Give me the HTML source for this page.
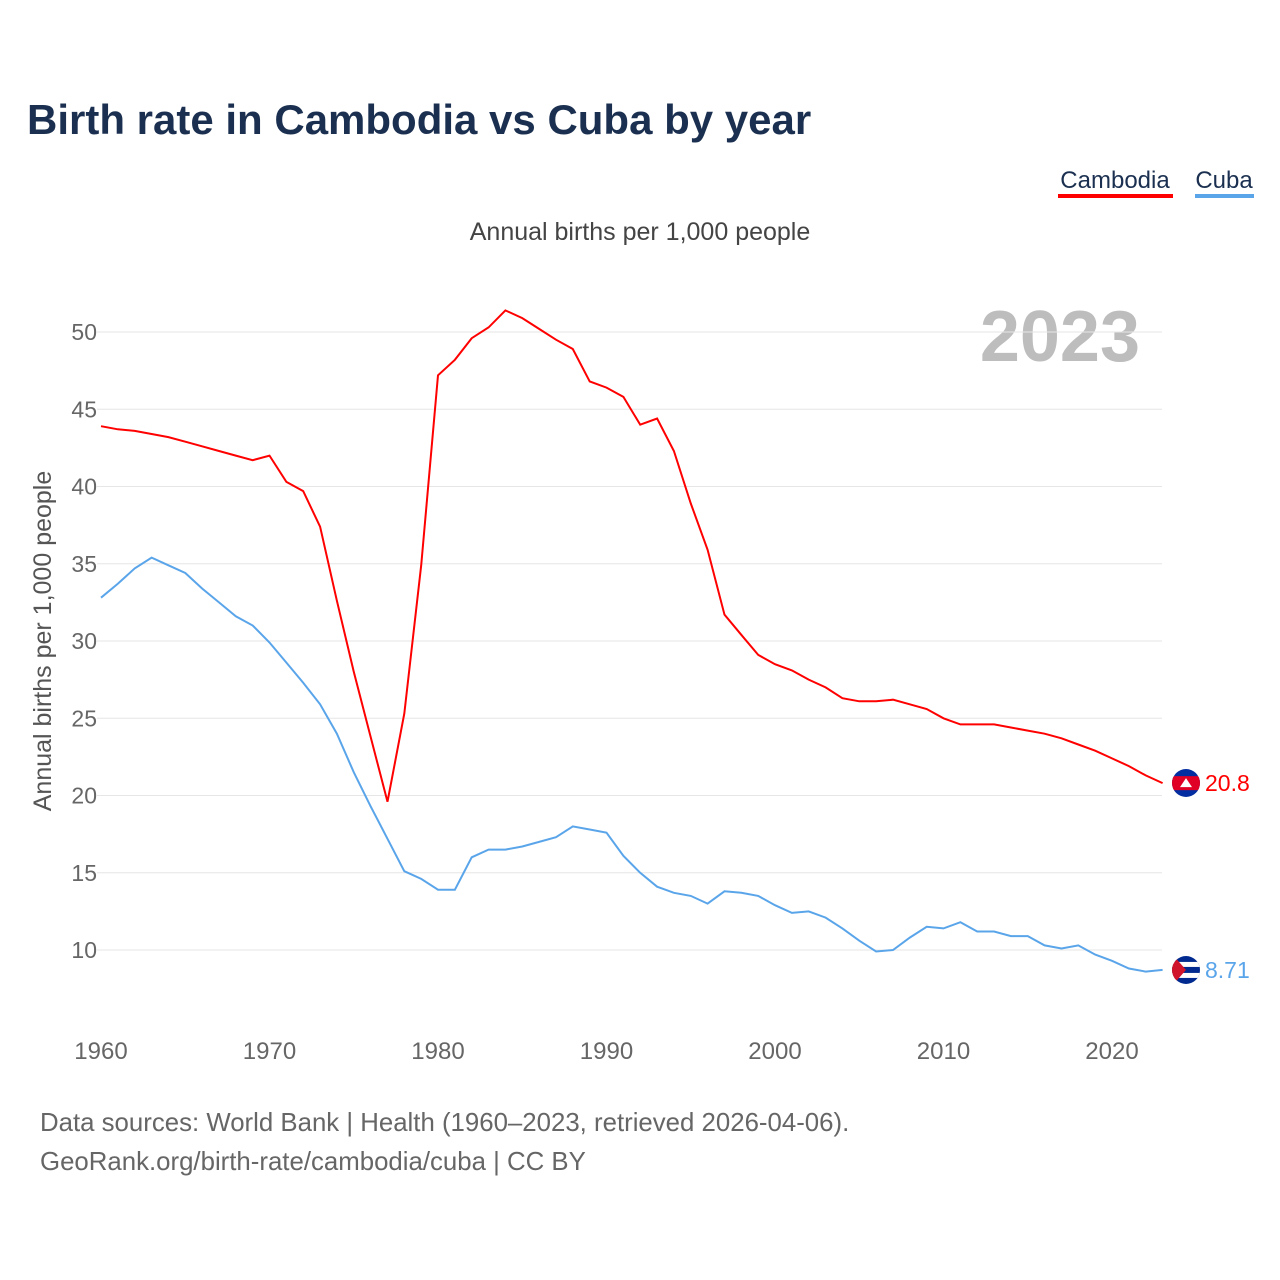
<!DOCTYPE html>
<html><head><meta charset="utf-8"><style>
body{margin:0;background:#fff;font-family:"Liberation Sans",sans-serif;}
</style></head><body>
<svg id="chart" width="1280" height="1280" xmlns="http://www.w3.org/2000/svg" style="display:block">
<text x="27" y="134" font-size="42" font-weight="bold" fill="#1b3050" font-family="Liberation Sans, sans-serif">Birth rate in Cambodia vs Cuba by year</text>
<g><text x="1115" y="188" font-size="24" fill="#1b3050" text-anchor="middle">Cambodia</text><rect x="1058" y="194" width="115" height="4" fill="#ff0000"/></g>
<g><text x="1224" y="188" font-size="24" fill="#1b3050" text-anchor="middle">Cuba</text><rect x="1195" y="194" width="59" height="4" fill="#5aa5ea"/></g>
<text x="640" y="240" font-size="25" fill="#444" text-anchor="middle">Annual births per 1,000 people</text>
<text x="1140" y="361" font-size="72" font-weight="bold" fill="#bdbdbd" text-anchor="end">2023</text>
<text transform="translate(51,641) rotate(-90)" font-size="25" fill="#555" text-anchor="middle">Annual births per 1,000 people</text>
<defs><clipPath id="fc1"><circle cx="1186" cy="783" r="14"/></clipPath><clipPath id="fc2"><circle cx="1186" cy="970" r="14"/></clipPath></defs>
<g id="grid"></g><g id="series"></g>
<text x="40" y="1131" font-size="25.8" fill="#666">Data sources: World Bank | Health (1960–2023, retrieved 2026-04-06).</text>
<text x="40" y="1170" font-size="25.8" fill="#666">GeoRank.org/birth-rate/cambodia/cuba | CC BY</text>
</svg>
<script>
const years=[];for(let y=1960;y<=2023;y++)years.push(y);
const cambodia=[43.9,43.7,43.6,43.4,43.2,42.9,42.6,42.3,42.0,41.7,42.0,40.3,39.7,37.4,32.6,28.0,23.8,19.6,25.3,34.9,47.2,48.2,49.6,50.3,51.4,50.9,50.2,49.5,48.9,46.8,46.4,45.8,44.0,44.4,42.3,38.9,35.9,31.7,30.4,29.1,28.5,28.1,27.5,27.0,26.3,26.1,26.1,26.2,25.9,25.6,25.0,24.6,24.6,24.6,24.4,24.2,24.0,23.7,23.3,22.9,22.4,21.9,21.3,20.8];
const cuba=[32.8,33.7,34.7,35.4,34.9,34.4,33.4,32.5,31.6,31.0,29.9,28.6,27.3,25.9,24.0,21.5,19.3,17.2,15.1,14.6,13.9,13.9,16.0,16.5,16.5,16.7,17.0,17.3,18.0,17.8,17.6,16.1,15.0,14.1,13.7,13.5,13.0,13.8,13.7,13.5,12.9,12.4,12.5,12.1,11.4,10.6,9.9,10.0,10.8,11.5,11.4,11.8,11.2,11.2,10.9,10.9,10.3,10.1,10.3,9.7,9.3,8.8,8.6,8.71];
const yTicks=[10,15,20,25,30,35,40,45,50];
const xTicks=[1960,1970,1980,1990,2000,2010,2020];
const NS="http://www.w3.org/2000/svg";
const X=v=>101+(v-1960)*(1011/60);
const Y=v=>1104.5-v*15.45;
function mk(t,a,p){const e=document.createElementNS(NS,t);for(const k in a)e.setAttribute(k,a[k]);p.appendChild(e);return e;}
const grid=document.getElementById('grid'),ser=document.getElementById('series');
yTicks.forEach(v=>{
 const l=mk('line',{x1:97,x2:1162,y1:Y(v),y2:Y(v),stroke:'#e6e6e6','stroke-width':1},grid);
 
 
 const t=mk('text',{x:97,y:Y(v)+8,'font-size':23,fill:'#666','text-anchor':'end'},grid);t.textContent=v;
 
 
});
xTicks.forEach(v=>{
 const t=mk('text',{x:X(v),y:1059,'font-size':24,fill:'#666','text-anchor':'middle'},grid);t.textContent=v;
 
 
});
function line(data,col,name,clip){
 const p=mk('path',{d:data.map((v,i)=>(i?'L':'M')+X(years[i]).toFixed(1)+','+Y(v).toFixed(1)).join(''),fill:'none',stroke:col,'stroke-width':2},ser);
 
 
 const last=data[data.length-1],ly=Y(last);
 const g=mk('g',{'clip-path':'url(#'+clip+')'},ser);
 
 
 mk('rect',{x:1170,y:ly-16,width:32,height:32,fill:name=='cambodia'?'#032ea1':'#002a8f'},g);
 if(name=='cambodia'){mk('rect',{x:1170,y:ly-7,width:32,height:14,fill:'#e00025'},g);mk('path',{d:`M1180,${ly+4}L1186,${ly-5}L1192,${ly+4}Z`,fill:'#fff'},g);}
 else{mk('rect',{x:1170,y:ly-8,width:32,height:5,fill:'#fff'},g);mk('rect',{x:1170,y:ly+3,width:32,height:5,fill:'#fff'},g);mk('path',{d:`M1172,${ly-16}L1186,${ly}L1172,${ly+16}Z`,fill:'#cf142b'},g);}
 const t=mk('text',{x:1205,y:ly+8,'font-size':23,fill:col},ser);t.textContent=last;
 
 
}
line(cambodia,'#ff0000','cambodia','fc1');
line(cuba,'#5aa5ea','cuba','fc2');
</script>
</body></html>
